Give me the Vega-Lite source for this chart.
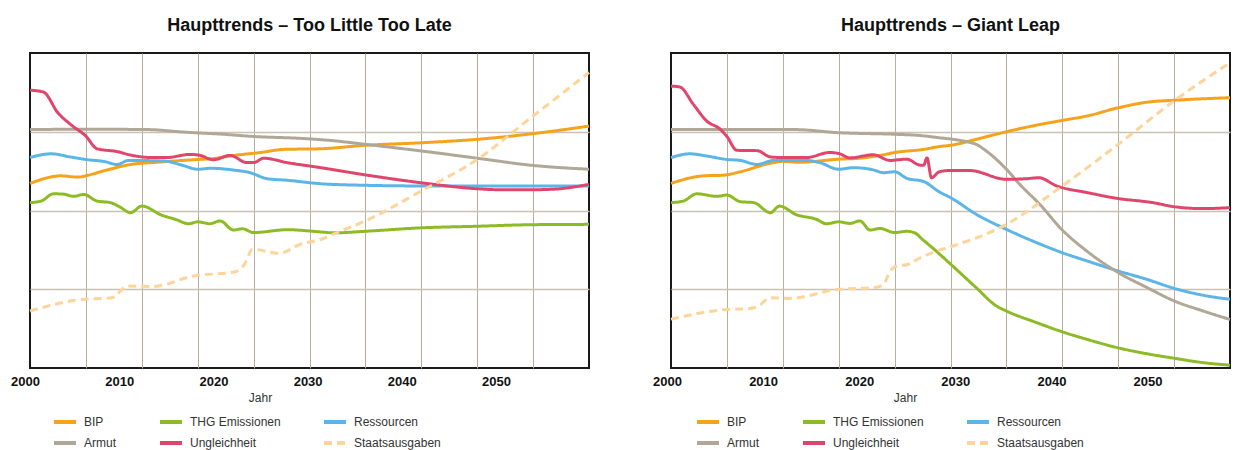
{
  "$schema": "https://vega.github.io/schema/vega-lite/v6.json",
  "padding": {"left": 9, "top": 16, "right": 0, "bottom": 0},
  "spacing": 55,
  "config": {
    "font": "Liberation Sans",
    "view": {"stroke": "#1a1a1a", "strokeWidth": 2},
    "title": {"fontSize": 18, "fontWeight": "bold", "color": "#111111", "offset": 18, "font": "Liberation Sans"},
    "axis": {"labelFont": "Liberation Sans", "labelFontSize": 13, "labelFontWeight": "bold", "labelColor": "#111111", "labelFlush": false, "titleFont": "Liberation Sans", "titleFontSize": 12, "titleFontWeight": "normal", "titleColor": "#333333"},
    "legend": {"labelFont": "Liberation Sans", "labelFontSize": 12, "labelColor": "#333333"}
  },
  "datasets": {
    "d": [
      {"Szenario": "TL", "Serie": "BIP", "Jahr": 2000, "Wert": 58.6},
      {"Szenario": "TL", "Serie": "BIP", "Jahr": 2002.8, "Wert": 61},
      {"Szenario": "TL", "Serie": "BIP", "Jahr": 2004.3, "Wert": 60.6},
      {"Szenario": "TL", "Serie": "BIP", "Jahr": 2005.2, "Wert": 61.2},
      {"Szenario": "TL", "Serie": "BIP", "Jahr": 2006.7, "Wert": 62.7},
      {"Szenario": "TL", "Serie": "BIP", "Jahr": 2009, "Wert": 64.6},
      {"Szenario": "TL", "Serie": "BIP", "Jahr": 2011.7, "Wert": 65.4},
      {"Szenario": "TL", "Serie": "BIP", "Jahr": 2015, "Wert": 66.2},
      {"Szenario": "TL", "Serie": "BIP", "Jahr": 2016.4, "Wert": 66.5},
      {"Szenario": "TL", "Serie": "BIP", "Jahr": 2018.3, "Wert": 67.5},
      {"Szenario": "TL", "Serie": "BIP", "Jahr": 2020.6, "Wert": 68.4},
      {"Szenario": "TL", "Serie": "BIP", "Jahr": 2022.7, "Wert": 69.4},
      {"Szenario": "TL", "Serie": "BIP", "Jahr": 2026, "Wert": 69.6},
      {"Szenario": "TL", "Serie": "BIP", "Jahr": 2030, "Wert": 70.7},
      {"Szenario": "TL", "Serie": "BIP", "Jahr": 2035, "Wert": 71.5},
      {"Szenario": "TL", "Serie": "BIP", "Jahr": 2040, "Wert": 72.6},
      {"Szenario": "TL", "Serie": "BIP", "Jahr": 2045, "Wert": 74.4},
      {"Szenario": "TL", "Serie": "BIP", "Jahr": 2050, "Wert": 76.8},

      {"Szenario": "TL", "Serie": "THG Emissionen", "Jahr": 2000, "Wert": 52.5},
      {"Szenario": "TL", "Serie": "THG Emissionen", "Jahr": 2001, "Wert": 53},
      {"Szenario": "TL", "Serie": "THG Emissionen", "Jahr": 2002.1, "Wert": 55.3},
      {"Szenario": "TL", "Serie": "THG Emissionen", "Jahr": 2003, "Wert": 55.2},
      {"Szenario": "TL", "Serie": "THG Emissionen", "Jahr": 2003.9, "Wert": 54.5},
      {"Szenario": "TL", "Serie": "THG Emissionen", "Jahr": 2004.8, "Wert": 55.1},
      {"Szenario": "TL", "Serie": "THG Emissionen", "Jahr": 2006, "Wert": 53},
      {"Szenario": "TL", "Serie": "THG Emissionen", "Jahr": 2007.2, "Wert": 52.5},
      {"Szenario": "TL", "Serie": "THG Emissionen", "Jahr": 2008, "Wert": 51.2},
      {"Szenario": "TL", "Serie": "THG Emissionen", "Jahr": 2009, "Wert": 49.3},
      {"Szenario": "TL", "Serie": "THG Emissionen", "Jahr": 2010, "Wert": 51.4},
      {"Szenario": "TL", "Serie": "THG Emissionen", "Jahr": 2011.8, "Wert": 48.5},
      {"Szenario": "TL", "Serie": "THG Emissionen", "Jahr": 2013, "Wert": 47.2},
      {"Szenario": "TL", "Serie": "THG Emissionen", "Jahr": 2014.2, "Wert": 45.8},
      {"Szenario": "TL", "Serie": "THG Emissionen", "Jahr": 2015, "Wert": 46.4},
      {"Szenario": "TL", "Serie": "THG Emissionen", "Jahr": 2016.1, "Wert": 45.8},
      {"Szenario": "TL", "Serie": "THG Emissionen", "Jahr": 2017, "Wert": 46.7},
      {"Szenario": "TL", "Serie": "THG Emissionen", "Jahr": 2018.2, "Wert": 43.8},
      {"Szenario": "TL", "Serie": "THG Emissionen", "Jahr": 2019, "Wert": 44.2},
      {"Szenario": "TL", "Serie": "THG Emissionen", "Jahr": 2020, "Wert": 43},
      {"Szenario": "TL", "Serie": "THG Emissionen", "Jahr": 2023, "Wert": 43.9},
      {"Szenario": "TL", "Serie": "THG Emissionen", "Jahr": 2026, "Wert": 43.2},
      {"Szenario": "TL", "Serie": "THG Emissionen", "Jahr": 2027.2, "Wert": 42.9},
      {"Szenario": "TL", "Serie": "THG Emissionen", "Jahr": 2030, "Wert": 43.4},
      {"Szenario": "TL", "Serie": "THG Emissionen", "Jahr": 2035, "Wert": 44.5},
      {"Szenario": "TL", "Serie": "THG Emissionen", "Jahr": 2040, "Wert": 45},
      {"Szenario": "TL", "Serie": "THG Emissionen", "Jahr": 2045, "Wert": 45.5},
      {"Szenario": "TL", "Serie": "THG Emissionen", "Jahr": 2050, "Wert": 45.6},

      {"Szenario": "TL", "Serie": "Ressourcen", "Jahr": 2000, "Wert": 66.8},
      {"Szenario": "TL", "Serie": "Ressourcen", "Jahr": 2001.9, "Wert": 68},
      {"Szenario": "TL", "Serie": "Ressourcen", "Jahr": 2003.6, "Wert": 67},
      {"Szenario": "TL", "Serie": "Ressourcen", "Jahr": 2005, "Wert": 66.2},
      {"Szenario": "TL", "Serie": "Ressourcen", "Jahr": 2006.7, "Wert": 65.5},
      {"Szenario": "TL", "Serie": "Ressourcen", "Jahr": 2007.8, "Wert": 64.6},
      {"Szenario": "TL", "Serie": "Ressourcen", "Jahr": 2008.8, "Wert": 65.9},
      {"Szenario": "TL", "Serie": "Ressourcen", "Jahr": 2012, "Wert": 65.7},
      {"Szenario": "TL", "Serie": "Ressourcen", "Jahr": 2013.5, "Wert": 64.5},
      {"Szenario": "TL", "Serie": "Ressourcen", "Jahr": 2015, "Wert": 63.1},
      {"Szenario": "TL", "Serie": "Ressourcen", "Jahr": 2016.2, "Wert": 63.4},
      {"Szenario": "TL", "Serie": "Ressourcen", "Jahr": 2018.3, "Wert": 62.8},
      {"Szenario": "TL", "Serie": "Ressourcen", "Jahr": 2019.7, "Wert": 62},
      {"Szenario": "TL", "Serie": "Ressourcen", "Jahr": 2021.2, "Wert": 60.1},
      {"Szenario": "TL", "Serie": "Ressourcen", "Jahr": 2023, "Wert": 59.6},
      {"Szenario": "TL", "Serie": "Ressourcen", "Jahr": 2026, "Wert": 58.5},
      {"Szenario": "TL", "Serie": "Ressourcen", "Jahr": 2030, "Wert": 58},
      {"Szenario": "TL", "Serie": "Ressourcen", "Jahr": 2035, "Wert": 57.8},
      {"Szenario": "TL", "Serie": "Ressourcen", "Jahr": 2040, "Wert": 57.8},
      {"Szenario": "TL", "Serie": "Ressourcen", "Jahr": 2045, "Wert": 57.8},
      {"Szenario": "TL", "Serie": "Ressourcen", "Jahr": 2050, "Wert": 57.8},

      {"Szenario": "TL", "Serie": "Armut", "Jahr": 2000, "Wert": 75.7},
      {"Szenario": "TL", "Serie": "Armut", "Jahr": 2005, "Wert": 75.8},
      {"Szenario": "TL", "Serie": "Armut", "Jahr": 2010.5, "Wert": 75.7},
      {"Szenario": "TL", "Serie": "Armut", "Jahr": 2013.7, "Wert": 74.9},
      {"Szenario": "TL", "Serie": "Armut", "Jahr": 2017.3, "Wert": 74.2},
      {"Szenario": "TL", "Serie": "Armut", "Jahr": 2020, "Wert": 73.5},
      {"Szenario": "TL", "Serie": "Armut", "Jahr": 2024.2, "Wert": 72.9},
      {"Szenario": "TL", "Serie": "Armut", "Jahr": 2027, "Wert": 72.2},
      {"Szenario": "TL", "Serie": "Armut", "Jahr": 2030, "Wert": 71},
      {"Szenario": "TL", "Serie": "Armut", "Jahr": 2035, "Wert": 68.9},
      {"Szenario": "TL", "Serie": "Armut", "Jahr": 2040, "Wert": 66.6},
      {"Szenario": "TL", "Serie": "Armut", "Jahr": 2045, "Wert": 64.3},
      {"Szenario": "TL", "Serie": "Armut", "Jahr": 2050, "Wert": 63.1},

      {"Szenario": "TL", "Serie": "Ungleichheit", "Jahr": 2000, "Wert": 88.2},
      {"Szenario": "TL", "Serie": "Ungleichheit", "Jahr": 2001.2, "Wert": 87.6},
      {"Szenario": "TL", "Serie": "Ungleichheit", "Jahr": 2002.5, "Wert": 81},
      {"Szenario": "TL", "Serie": "Ungleichheit", "Jahr": 2003.6, "Wert": 77.4},
      {"Szenario": "TL", "Serie": "Ungleichheit", "Jahr": 2005, "Wert": 73.6},
      {"Szenario": "TL", "Serie": "Ungleichheit", "Jahr": 2006, "Wert": 69.6},
      {"Szenario": "TL", "Serie": "Ungleichheit", "Jahr": 2007.8, "Wert": 68.7},
      {"Szenario": "TL", "Serie": "Ungleichheit", "Jahr": 2009, "Wert": 67.6},
      {"Szenario": "TL", "Serie": "Ungleichheit", "Jahr": 2011, "Wert": 66.8},
      {"Szenario": "TL", "Serie": "Ungleichheit", "Jahr": 2012.2, "Wert": 66.8},
      {"Szenario": "TL", "Serie": "Ungleichheit", "Jahr": 2014.3, "Wert": 67.8},
      {"Szenario": "TL", "Serie": "Ungleichheit", "Jahr": 2015.2, "Wert": 67.5},
      {"Szenario": "TL", "Serie": "Ungleichheit", "Jahr": 2016.4, "Wert": 66.1},
      {"Szenario": "TL", "Serie": "Ungleichheit", "Jahr": 2017.9, "Wert": 67.5},
      {"Szenario": "TL", "Serie": "Ungleichheit", "Jahr": 2019.4, "Wert": 65.2},
      {"Szenario": "TL", "Serie": "Ungleichheit", "Jahr": 2020, "Wert": 65.2},
      {"Szenario": "TL", "Serie": "Ungleichheit", "Jahr": 2020.9, "Wert": 66.6},
      {"Szenario": "TL", "Serie": "Ungleichheit", "Jahr": 2023, "Wert": 65.2},
      {"Szenario": "TL", "Serie": "Ungleichheit", "Jahr": 2026, "Wert": 63.6},
      {"Szenario": "TL", "Serie": "Ungleichheit", "Jahr": 2030, "Wert": 61.3},
      {"Szenario": "TL", "Serie": "Ungleichheit", "Jahr": 2035, "Wert": 58.8},
      {"Szenario": "TL", "Serie": "Ungleichheit", "Jahr": 2040, "Wert": 56.9},
      {"Szenario": "TL", "Serie": "Ungleichheit", "Jahr": 2042, "Wert": 56.6},
      {"Szenario": "TL", "Serie": "Ungleichheit", "Jahr": 2045, "Wert": 56.6},
      {"Szenario": "TL", "Serie": "Ungleichheit", "Jahr": 2047, "Wert": 56.8},
      {"Szenario": "TL", "Serie": "Ungleichheit", "Jahr": 2050, "Wert": 58.3},

      {"Szenario": "TL", "Serie": "Staatsausgaben", "Jahr": 2000, "Wert": 18.1},
      {"Szenario": "TL", "Serie": "Staatsausgaben", "Jahr": 2004, "Wert": 21.5},
      {"Szenario": "TL", "Serie": "Staatsausgaben", "Jahr": 2007.4, "Wert": 22.4},
      {"Szenario": "TL", "Serie": "Staatsausgaben", "Jahr": 2008.7, "Wert": 26},
      {"Szenario": "TL", "Serie": "Staatsausgaben", "Jahr": 2011, "Wert": 25.9},
      {"Szenario": "TL", "Serie": "Staatsausgaben", "Jahr": 2014.6, "Wert": 29.2},
      {"Szenario": "TL", "Serie": "Staatsausgaben", "Jahr": 2018.3, "Wert": 30.5},
      {"Szenario": "TL", "Serie": "Staatsausgaben", "Jahr": 2019.2, "Wert": 33},
      {"Szenario": "TL", "Serie": "Staatsausgaben", "Jahr": 2019.9, "Wert": 37.7},
      {"Szenario": "TL", "Serie": "Staatsausgaben", "Jahr": 2022.3, "Wert": 36.4},
      {"Szenario": "TL", "Serie": "Staatsausgaben", "Jahr": 2024.2, "Wert": 39.3},
      {"Szenario": "TL", "Serie": "Staatsausgaben", "Jahr": 2026, "Wert": 40.8},
      {"Szenario": "TL", "Serie": "Staatsausgaben", "Jahr": 2027.2, "Wert": 42.6},
      {"Szenario": "TL", "Serie": "Staatsausgaben", "Jahr": 2030, "Wert": 46.7},
      {"Szenario": "TL", "Serie": "Staatsausgaben", "Jahr": 2035, "Wert": 56.2},
      {"Szenario": "TL", "Serie": "Staatsausgaben", "Jahr": 2040, "Wert": 66.2},
      {"Szenario": "TL", "Serie": "Staatsausgaben", "Jahr": 2045, "Wert": 80},
      {"Szenario": "TL", "Serie": "Staatsausgaben", "Jahr": 2050, "Wert": 93.8},

      {"Szenario": "GL", "Serie": "BIP", "Jahr": 2000, "Wert": 58.6},
      {"Szenario": "GL", "Serie": "BIP", "Jahr": 2002.9, "Wert": 61},
      {"Szenario": "GL", "Serie": "BIP", "Jahr": 2004.7, "Wert": 61.2},
      {"Szenario": "GL", "Serie": "BIP", "Jahr": 2006.2, "Wert": 62.3},
      {"Szenario": "GL", "Serie": "BIP", "Jahr": 2008.9, "Wert": 65},
      {"Szenario": "GL", "Serie": "BIP", "Jahr": 2010, "Wert": 65.6},
      {"Szenario": "GL", "Serie": "BIP", "Jahr": 2011.5, "Wert": 65.3},
      {"Szenario": "GL", "Serie": "BIP", "Jahr": 2015, "Wert": 66.3},
      {"Szenario": "GL", "Serie": "BIP", "Jahr": 2016.9, "Wert": 66.6},
      {"Szenario": "GL", "Serie": "BIP", "Jahr": 2019, "Wert": 67.7},
      {"Szenario": "GL", "Serie": "BIP", "Jahr": 2020, "Wert": 68.4},
      {"Szenario": "GL", "Serie": "BIP", "Jahr": 2022.6, "Wert": 69.4},
      {"Szenario": "GL", "Serie": "BIP", "Jahr": 2024, "Wert": 70.3},
      {"Szenario": "GL", "Serie": "BIP", "Jahr": 2025, "Wert": 70.7},
      {"Szenario": "GL", "Serie": "BIP", "Jahr": 2027.3, "Wert": 72.6},
      {"Szenario": "GL", "Serie": "BIP", "Jahr": 2030, "Wert": 75},
      {"Szenario": "GL", "Serie": "BIP", "Jahr": 2032.7, "Wert": 77.1},
      {"Szenario": "GL", "Serie": "BIP", "Jahr": 2035, "Wert": 78.6},
      {"Szenario": "GL", "Serie": "BIP", "Jahr": 2037.2, "Wert": 80},
      {"Szenario": "GL", "Serie": "BIP", "Jahr": 2040, "Wert": 82.6},
      {"Szenario": "GL", "Serie": "BIP", "Jahr": 2042.6, "Wert": 84.4},
      {"Szenario": "GL", "Serie": "BIP", "Jahr": 2045, "Wert": 85},
      {"Szenario": "GL", "Serie": "BIP", "Jahr": 2050, "Wert": 85.8},

      {"Szenario": "GL", "Serie": "THG Emissionen", "Jahr": 2000, "Wert": 52.5},
      {"Szenario": "GL", "Serie": "THG Emissionen", "Jahr": 2001.1, "Wert": 53},
      {"Szenario": "GL", "Serie": "THG Emissionen", "Jahr": 2002.3, "Wert": 55.3},
      {"Szenario": "GL", "Serie": "THG Emissionen", "Jahr": 2004.1, "Wert": 54.5},
      {"Szenario": "GL", "Serie": "THG Emissionen", "Jahr": 2005, "Wert": 54.9},
      {"Szenario": "GL", "Serie": "THG Emissionen", "Jahr": 2006.2, "Wert": 52.8},
      {"Szenario": "GL", "Serie": "THG Emissionen", "Jahr": 2007.4, "Wert": 52.5},
      {"Szenario": "GL", "Serie": "THG Emissionen", "Jahr": 2008.9, "Wert": 49.3},
      {"Szenario": "GL", "Serie": "THG Emissionen", "Jahr": 2009.7, "Wert": 51.4},
      {"Szenario": "GL", "Serie": "THG Emissionen", "Jahr": 2011.2, "Wert": 48.7},
      {"Szenario": "GL", "Serie": "THG Emissionen", "Jahr": 2013, "Wert": 47.2},
      {"Szenario": "GL", "Serie": "THG Emissionen", "Jahr": 2013.9, "Wert": 45.8},
      {"Szenario": "GL", "Serie": "THG Emissionen", "Jahr": 2015, "Wert": 46.4},
      {"Szenario": "GL", "Serie": "THG Emissionen", "Jahr": 2016, "Wert": 45.9},
      {"Szenario": "GL", "Serie": "THG Emissionen", "Jahr": 2016.9, "Wert": 46.7},
      {"Szenario": "GL", "Serie": "THG Emissionen", "Jahr": 2017.8, "Wert": 43.8},
      {"Szenario": "GL", "Serie": "THG Emissionen", "Jahr": 2018.7, "Wert": 44.3},
      {"Szenario": "GL", "Serie": "THG Emissionen", "Jahr": 2020, "Wert": 43},
      {"Szenario": "GL", "Serie": "THG Emissionen", "Jahr": 2021.1, "Wert": 43.4},
      {"Szenario": "GL", "Serie": "THG Emissionen", "Jahr": 2021.8, "Wert": 42.9},
      {"Szenario": "GL", "Serie": "THG Emissionen", "Jahr": 2022.5, "Wert": 40.8},
      {"Szenario": "GL", "Serie": "THG Emissionen", "Jahr": 2023.5, "Wert": 37.8},
      {"Szenario": "GL", "Serie": "THG Emissionen", "Jahr": 2025, "Wert": 33},
      {"Szenario": "GL", "Serie": "THG Emissionen", "Jahr": 2027.3, "Wert": 25.5},
      {"Szenario": "GL", "Serie": "THG Emissionen", "Jahr": 2029.1, "Wert": 19.7},
      {"Szenario": "GL", "Serie": "THG Emissionen", "Jahr": 2030, "Wert": 18.1},
      {"Szenario": "GL", "Serie": "THG Emissionen", "Jahr": 2032.7, "Wert": 14.4},
      {"Szenario": "GL", "Serie": "THG Emissionen", "Jahr": 2035, "Wert": 11.5},
      {"Szenario": "GL", "Serie": "THG Emissionen", "Jahr": 2037.2, "Wert": 9.1},
      {"Szenario": "GL", "Serie": "THG Emissionen", "Jahr": 2040, "Wert": 6.4},
      {"Szenario": "GL", "Serie": "THG Emissionen", "Jahr": 2042.6, "Wert": 4.5},
      {"Szenario": "GL", "Serie": "THG Emissionen", "Jahr": 2045, "Wert": 3.1},
      {"Szenario": "GL", "Serie": "THG Emissionen", "Jahr": 2047.6, "Wert": 1.7},
      {"Szenario": "GL", "Serie": "THG Emissionen", "Jahr": 2050, "Wert": 0.9},

      {"Szenario": "GL", "Serie": "Ressourcen", "Jahr": 2000, "Wert": 66.8},
      {"Szenario": "GL", "Serie": "Ressourcen", "Jahr": 2001.7, "Wert": 68},
      {"Szenario": "GL", "Serie": "Ressourcen", "Jahr": 2003.2, "Wert": 67.3},
      {"Szenario": "GL", "Serie": "Ressourcen", "Jahr": 2005, "Wert": 66.2},
      {"Szenario": "GL", "Serie": "Ressourcen", "Jahr": 2006.2, "Wert": 65.9},
      {"Szenario": "GL", "Serie": "Ressourcen", "Jahr": 2007.7, "Wert": 64.6},
      {"Szenario": "GL", "Serie": "Ressourcen", "Jahr": 2009.2, "Wert": 65.9},
      {"Szenario": "GL", "Serie": "Ressourcen", "Jahr": 2012.1, "Wert": 65.9},
      {"Szenario": "GL", "Serie": "Ressourcen", "Jahr": 2013.3, "Wert": 65.2},
      {"Szenario": "GL", "Serie": "Ressourcen", "Jahr": 2015, "Wert": 63.1},
      {"Szenario": "GL", "Serie": "Ressourcen", "Jahr": 2016.3, "Wert": 63.6},
      {"Szenario": "GL", "Serie": "Ressourcen", "Jahr": 2018.1, "Wert": 62.9},
      {"Szenario": "GL", "Serie": "Ressourcen", "Jahr": 2019, "Wert": 62},
      {"Szenario": "GL", "Serie": "Ressourcen", "Jahr": 2020, "Wert": 62.3},
      {"Szenario": "GL", "Serie": "Ressourcen", "Jahr": 2021.1, "Wert": 60.2},
      {"Szenario": "GL", "Serie": "Ressourcen", "Jahr": 2022.6, "Wert": 59.2},
      {"Szenario": "GL", "Serie": "Ressourcen", "Jahr": 2024, "Wert": 55.9},
      {"Szenario": "GL", "Serie": "Ressourcen", "Jahr": 2025, "Wert": 54.1},
      {"Szenario": "GL", "Serie": "Ressourcen", "Jahr": 2027.3, "Wert": 48.8},
      {"Szenario": "GL", "Serie": "Ressourcen", "Jahr": 2030, "Wert": 44},
      {"Szenario": "GL", "Serie": "Ressourcen", "Jahr": 2032.7, "Wert": 39.8},
      {"Szenario": "GL", "Serie": "Ressourcen", "Jahr": 2035, "Wert": 36.6},
      {"Szenario": "GL", "Serie": "Ressourcen", "Jahr": 2037.2, "Wert": 34},
      {"Szenario": "GL", "Serie": "Ressourcen", "Jahr": 2040, "Wert": 30.8},
      {"Szenario": "GL", "Serie": "Ressourcen", "Jahr": 2042.6, "Wert": 28.1},
      {"Szenario": "GL", "Serie": "Ressourcen", "Jahr": 2045, "Wert": 25.3},
      {"Szenario": "GL", "Serie": "Ressourcen", "Jahr": 2047.6, "Wert": 23.1},
      {"Szenario": "GL", "Serie": "Ressourcen", "Jahr": 2050, "Wert": 21.8},

      {"Szenario": "GL", "Serie": "Armut", "Jahr": 2000, "Wert": 75.7},
      {"Szenario": "GL", "Serie": "Armut", "Jahr": 2011, "Wert": 75.7},
      {"Szenario": "GL", "Serie": "Armut", "Jahr": 2015, "Wert": 74.7},
      {"Szenario": "GL", "Serie": "Armut", "Jahr": 2020, "Wert": 74.2},
      {"Szenario": "GL", "Serie": "Armut", "Jahr": 2022.3, "Wert": 73.8},
      {"Szenario": "GL", "Serie": "Armut", "Jahr": 2024, "Wert": 73.1},
      {"Szenario": "GL", "Serie": "Armut", "Jahr": 2025, "Wert": 72.7},
      {"Szenario": "GL", "Serie": "Armut", "Jahr": 2026.5, "Wert": 71.8},
      {"Szenario": "GL", "Serie": "Armut", "Jahr": 2027.3, "Wert": 71},
      {"Szenario": "GL", "Serie": "Armut", "Jahr": 2028.2, "Wert": 68.9},
      {"Szenario": "GL", "Serie": "Armut", "Jahr": 2030, "Wert": 63.1},
      {"Szenario": "GL", "Serie": "Armut", "Jahr": 2031.2, "Wert": 58.3},
      {"Szenario": "GL", "Serie": "Armut", "Jahr": 2033, "Wert": 51.9},
      {"Szenario": "GL", "Serie": "Armut", "Jahr": 2035, "Wert": 43.8},
      {"Szenario": "GL", "Serie": "Armut", "Jahr": 2037.2, "Wert": 37.1},
      {"Szenario": "GL", "Serie": "Armut", "Jahr": 2040, "Wert": 30.3},
      {"Szenario": "GL", "Serie": "Armut", "Jahr": 2042.6, "Wert": 25.5},
      {"Szenario": "GL", "Serie": "Armut", "Jahr": 2045, "Wert": 21.3},
      {"Szenario": "GL", "Serie": "Armut", "Jahr": 2047.6, "Wert": 18.1},
      {"Szenario": "GL", "Serie": "Armut", "Jahr": 2050, "Wert": 15.4},

      {"Szenario": "GL", "Serie": "Ungleichheit", "Jahr": 2000, "Wert": 89.5},
      {"Szenario": "GL", "Serie": "Ungleichheit", "Jahr": 2000.8, "Wert": 89.2},
      {"Szenario": "GL", "Serie": "Ungleichheit", "Jahr": 2002, "Wert": 83.7},
      {"Szenario": "GL", "Serie": "Ungleichheit", "Jahr": 2003.2, "Wert": 78.4},
      {"Szenario": "GL", "Serie": "Ungleichheit", "Jahr": 2004.4, "Wert": 75.8},
      {"Szenario": "GL", "Serie": "Ungleichheit", "Jahr": 2005, "Wert": 73.5},
      {"Szenario": "GL", "Serie": "Ungleichheit", "Jahr": 2005.9, "Wert": 69.1},
      {"Szenario": "GL", "Serie": "Ungleichheit", "Jahr": 2007.7, "Wert": 69},
      {"Szenario": "GL", "Serie": "Ungleichheit", "Jahr": 2008.9, "Wert": 67},
      {"Szenario": "GL", "Serie": "Ungleichheit", "Jahr": 2010, "Wert": 66.8},
      {"Szenario": "GL", "Serie": "Ungleichheit", "Jahr": 2012.1, "Wert": 66.8},
      {"Szenario": "GL", "Serie": "Ungleichheit", "Jahr": 2014.2, "Wert": 68.4},
      {"Szenario": "GL", "Serie": "Ungleichheit", "Jahr": 2015, "Wert": 68.1},
      {"Szenario": "GL", "Serie": "Ungleichheit", "Jahr": 2016, "Wert": 66.7},
      {"Szenario": "GL", "Serie": "Ungleichheit", "Jahr": 2018.1, "Wert": 67.7},
      {"Szenario": "GL", "Serie": "Ungleichheit", "Jahr": 2019.6, "Wert": 65.9},
      {"Szenario": "GL", "Serie": "Ungleichheit", "Jahr": 2021.1, "Wert": 66.3},
      {"Szenario": "GL", "Serie": "Ungleichheit", "Jahr": 2022.3, "Wert": 64.4},
      {"Szenario": "GL", "Serie": "Ungleichheit", "Jahr": 2022.6, "Wert": 64.4},
      {"Szenario": "GL", "Serie": "Ungleichheit", "Jahr": 2022.9, "Wert": 66.7},
      {"Szenario": "GL", "Serie": "Ungleichheit", "Jahr": 2023.3, "Wert": 60.4},
      {"Szenario": "GL", "Serie": "Ungleichheit", "Jahr": 2024, "Wert": 62.3},
      {"Szenario": "GL", "Serie": "Ungleichheit", "Jahr": 2025, "Wert": 62.7},
      {"Szenario": "GL", "Serie": "Ungleichheit", "Jahr": 2026.7, "Wert": 62.7},
      {"Szenario": "GL", "Serie": "Ungleichheit", "Jahr": 2030, "Wert": 59.9},
      {"Szenario": "GL", "Serie": "Ungleichheit", "Jahr": 2031.8, "Wert": 60.1},
      {"Szenario": "GL", "Serie": "Ungleichheit", "Jahr": 2032.9, "Wert": 60.4},
      {"Szenario": "GL", "Serie": "Ungleichheit", "Jahr": 2034.5, "Wert": 57.8},
      {"Szenario": "GL", "Serie": "Ungleichheit", "Jahr": 2037.2, "Wert": 55.7},
      {"Szenario": "GL", "Serie": "Ungleichheit", "Jahr": 2040, "Wert": 53.8},
      {"Szenario": "GL", "Serie": "Ungleichheit", "Jahr": 2043.1, "Wert": 52.5},
      {"Szenario": "GL", "Serie": "Ungleichheit", "Jahr": 2045, "Wert": 51.2},
      {"Szenario": "GL", "Serie": "Ungleichheit", "Jahr": 2047.6, "Wert": 50.6},
      {"Szenario": "GL", "Serie": "Ungleichheit", "Jahr": 2050, "Wert": 50.9},

      {"Szenario": "GL", "Serie": "Staatsausgaben", "Jahr": 2000, "Wert": 15.5},
      {"Szenario": "GL", "Serie": "Staatsausgaben", "Jahr": 2003.2, "Wert": 17.8},
      {"Szenario": "GL", "Serie": "Staatsausgaben", "Jahr": 2005, "Wert": 18.6},
      {"Szenario": "GL", "Serie": "Staatsausgaben", "Jahr": 2006.8, "Wert": 18.8},
      {"Szenario": "GL", "Serie": "Staatsausgaben", "Jahr": 2007.7, "Wert": 19.4},
      {"Szenario": "GL", "Serie": "Staatsausgaben", "Jahr": 2008.9, "Wert": 22.3},
      {"Szenario": "GL", "Serie": "Staatsausgaben", "Jahr": 2010.6, "Wert": 22.1},
      {"Szenario": "GL", "Serie": "Staatsausgaben", "Jahr": 2015, "Wert": 25},
      {"Szenario": "GL", "Serie": "Staatsausgaben", "Jahr": 2018.1, "Wert": 25.5},
      {"Szenario": "GL", "Serie": "Staatsausgaben", "Jahr": 2019, "Wert": 26.5},
      {"Szenario": "GL", "Serie": "Staatsausgaben", "Jahr": 2019.6, "Wert": 30.8},
      {"Szenario": "GL", "Serie": "Staatsausgaben", "Jahr": 2020.2, "Wert": 32.4},
      {"Szenario": "GL", "Serie": "Staatsausgaben", "Jahr": 2021.1, "Wert": 32.8},
      {"Szenario": "GL", "Serie": "Staatsausgaben", "Jahr": 2022.3, "Wert": 35},
      {"Szenario": "GL", "Serie": "Staatsausgaben", "Jahr": 2024, "Wert": 37.4},
      {"Szenario": "GL", "Serie": "Staatsausgaben", "Jahr": 2025, "Wert": 38.5},
      {"Szenario": "GL", "Serie": "Staatsausgaben", "Jahr": 2030, "Wert": 45.6},
      {"Szenario": "GL", "Serie": "Staatsausgaben", "Jahr": 2035, "Wert": 57.8},
      {"Szenario": "GL", "Serie": "Staatsausgaben", "Jahr": 2040, "Wert": 71},
      {"Szenario": "GL", "Serie": "Staatsausgaben", "Jahr": 2045, "Wert": 84.8},
      {"Szenario": "GL", "Serie": "Staatsausgaben", "Jahr": 2050, "Wert": 96.9}
    ]
  },
  "hconcat": [
    {
      "title": "Haupttrends – Too Little Too Late",
      "width": 559,
      "height": 315,
      "data": {"name": "d"},
      "transform": [{"filter": "datum.Szenario === 'TL'"}],
      "layer": [
        {
          "mark": {"type": "line", "interpolate": "monotone", "strokeWidth": 3},
          "encoding": {
            "x": {"field": "Jahr", "type": "quantitative", "scale": {"domain": [2000, 2050], "nice": false, "zero": false},
                  "axis": {"orient": "top", "labels": false, "ticks": false, "domain": false, "grid": true, "values": [2005, 2010, 2015, 2020, 2025, 2030, 2035, 2040, 2045], "gridColor": "#b8ae9e", "gridWidth": 1, "title": null}},
            "y": {"field": "Wert", "type": "quantitative", "scale": {"domain": [0, 100], "nice": false},
                  "axis": {"labels": false, "ticks": false, "domain": false, "grid": true, "values": [25, 50, 75], "gridColor": "#c9c1b3", "gridWidth": 1.5, "title": null}},
            "color": {"field": "Serie", "type": "nominal",
                      "scale": {"domain": ["BIP", "THG Emissionen", "Ressourcen", "Armut", "Ungleichheit", "Staatsausgaben"], "range": ["#f7a21b", "#8dbb25", "#5bb5e6", "#b1a797", "#e0456b", "#fdd49a"]},
                      "legend": {"title": null, "orient": "none", "legendX": 22, "legendY": 356, "direction": "horizontal", "columns": 3, "columnPadding": 35, "rowPadding": -3, "symbolType": "stroke", "symbolSize": 484, "symbolStrokeWidth": 4, "labelOffset": 6}},
            "strokeDash": {"field": "Serie", "type": "nominal",
                      "scale": {"domain": ["BIP", "THG Emissionen", "Ressourcen", "Armut", "Ungleichheit", "Staatsausgaben"], "range": [[1, 0], [1, 0], [1, 0], [1, 0], [1, 0], [8, 5]]}}
          }
        },
        {
          "mark": {"type": "point", "opacity": 0},
          "encoding": {
            "x": {"field": "Jahr", "type": "quantitative", "scale": {"domain": [2000, 2059.34], "nice": false, "zero": false},
                  "axis": {"orient": "bottom", "values": [2000, 2010, 2020, 2030, 2040, 2050], "format": "d", "labelOffset": -5, "ticks": false, "domain": false, "grid": false, "labelPadding": 7, "title": "Jahr", "titleX": 230, "titlePadding": 4}},
            "y": {"field": "Wert", "type": "quantitative"}
          }
        }
      ],
      "resolve": {"scale": {"x": "independent"}}
    },
    {
      "title": "Haupttrends – Giant Leap",
      "width": 559,
      "height": 315,
      "data": {"name": "d"},
      "transform": [{"filter": "datum.Szenario === 'GL'"}],
      "layer": [
        {
          "mark": {"type": "line", "interpolate": "monotone", "strokeWidth": 3},
          "encoding": {
            "x": {"field": "Jahr", "type": "quantitative", "scale": {"domain": [2000, 2050], "nice": false, "zero": false},
                  "axis": {"orient": "top", "labels": false, "ticks": false, "domain": false, "grid": true, "values": [2005, 2010, 2015, 2020, 2025, 2030, 2035, 2040, 2045], "gridColor": "#b8ae9e", "gridWidth": 1, "title": null}},
            "y": {"field": "Wert", "type": "quantitative", "scale": {"domain": [0, 100], "nice": false},
                  "axis": {"labels": false, "ticks": false, "domain": false, "grid": true, "values": [25, 50, 75], "gridColor": "#c9c1b3", "gridWidth": 1.5, "title": null}},
            "color": {"field": "Serie", "type": "nominal",
                      "scale": {"domain": ["BIP", "THG Emissionen", "Ressourcen", "Armut", "Ungleichheit", "Staatsausgaben"], "range": ["#f7a21b", "#8dbb25", "#5bb5e6", "#b1a797", "#e0456b", "#fdd49a"]},
                      "legend": {"title": null, "orient": "none", "legendX": 24, "legendY": 356, "direction": "horizontal", "columns": 3, "columnPadding": 35, "rowPadding": -3, "symbolType": "stroke", "symbolSize": 484, "symbolStrokeWidth": 4, "labelOffset": 6}},
            "strokeDash": {"field": "Serie", "type": "nominal",
                      "scale": {"domain": ["BIP", "THG Emissionen", "Ressourcen", "Armut", "Ungleichheit", "Staatsausgaben"], "range": [[1, 0], [1, 0], [1, 0], [1, 0], [1, 0], [8, 5]]}}
          }
        },
        {
          "mark": {"type": "point", "opacity": 0},
          "encoding": {
            "x": {"field": "Jahr", "type": "quantitative", "scale": {"domain": [2000, 2058.17], "nice": false, "zero": false},
                  "axis": {"orient": "bottom", "values": [2000, 2010, 2020, 2030, 2040, 2050], "format": "d", "labelOffset": -4, "ticks": false, "domain": false, "grid": false, "labelPadding": 7, "title": "Jahr", "titleX": 234, "titlePadding": 4}},
            "y": {"field": "Wert", "type": "quantitative"}
          }
        }
      ],
      "resolve": {"scale": {"x": "independent"}}
    }
  ],
  "resolve": {"scale": {"color": "independent", "strokeDash": "independent"}, "legend": {"color": "independent", "strokeDash": "independent"}}
}
